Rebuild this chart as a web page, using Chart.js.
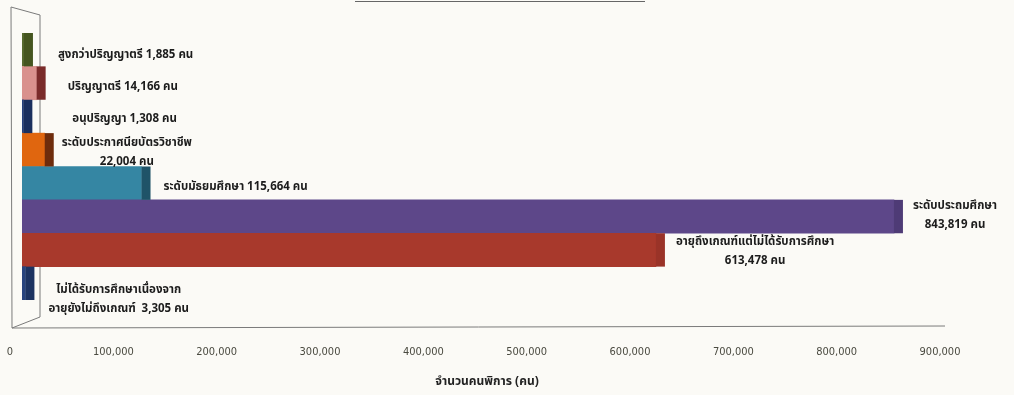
<!DOCTYPE html>
<html>
<head>
<meta charset="utf-8">
<script src="https://cdn.jsdelivr.net/npm/chart.js@4.4.1/dist/chart.umd.min.js"></script>
<style>
  html, body { margin: 0; padding: 0; background: #fbfaf6; }
  #wrap { position: relative; width: 1014px; height: 395px; }
</style>
</head>
<body>
<div id="wrap"><canvas id="chart1" width="1014" height="395"></canvas></div>
<script>
// data
var categories = [
    'สูงกว่าปริญญาตรี',
    'ปริญญาตรี',
    'อนุปริญญา',
    'ระดับประกาศนียบัตรวิชาชีพ',
    'ระดับมัธยมศึกษา',
    'ระดับประถมศึกษา',
    'อายุถึงเกณฑ์แต่ไม่ได้รับการศึกษา',
    'ไม่ได้รับการศึกษาเนื่องจาก\nอายุยังไม่ถึงเกณฑ์ '
];
var people = [1885, 14166, 1308, 22004, 115664, 843819, 613478, 3305];
var valueOnNewLine = [false, false, false, true, false, true, true, false];
var xTicks = [0, 100000, 200000, 300000, 400000, 500000, 600000, 700000, 800000, 900000];

// styles
var frontColors = ['#56692e', '#d9918d', '#253f7c', '#e0660f', '#3586a3', '#5d4789', '#a8392c', '#27437e'];
var sideColors  = ['#45551f', '#7a2b2a', '#1b2f5e', '#6e2c0c', '#1f5368', '#4e3b76', '#9a3328', '#1c3362'];
var labelNudge  = [[15, 3], [12, 2], [30, 0], [-2, 0], [3, 1], [0, -3], [1, -1], [4, 14]];

function fmt(v) { return v.toLocaleString('en-US'); }

var FONT = "'Noto Sans Thai', 'Noto Sans', 'DejaVu Sans', sans-serif";
var SIDE = 9;

var depthPlugin = {
    id: 'depth',
    beforeDatasetsDraw: function(chart) {
        var c = chart.ctx, a = chart.chartArea;
        c.save();
        c.strokeStyle = '#7a7a7a';
        c.lineWidth = 1;
        // back wall
        c.beginPath();
        c.moveTo(a.left - 11, 7);
        c.lineTo(a.left + 18, 15);
        c.lineTo(a.left + 18, a.bottom + 17);
        c.lineTo(a.left - 10, a.bottom + 28);
        c.closePath();
        c.stroke();
        // floor front edge
        c.beginPath();
        c.moveTo(a.left - 10, a.bottom + 28);
        c.lineTo(a.right - 7, a.bottom + 26);
        c.stroke();
        // title underline (title cut off in the scan)
        c.strokeStyle = '#666';
        c.beginPath();
        c.moveTo(355, 1.5);
        c.lineTo(645, 1.5);
        c.stroke();
        c.restore();
    },
    afterDatasetsDraw: function(chart) {
        var c = chart.ctx;
        var bars = chart.getDatasetMeta(0).data;
        c.save();
        bars.forEach(function(bar, i) {
            var top = bar.y - bar.height / 2;
            c.fillStyle = sideColors[i];
            c.fillRect(bar.x, top, SIDE, bar.height);
        });
        // value labels
        c.fillStyle = '#1c1c1c';
        c.font = 'bold 11.5px ' + FONT;
        c.textBaseline = 'middle';
        bars.forEach(function(bar, i) {
            var text = categories[i] + (valueOnNewLine[i] ? '\n' : ' ') + fmt(people[i]) + ' คน';
            var lines = text.split('\n');
            var w = Math.max.apply(null, lines.map(function(l) { return c.measureText(l).width; }));
            var x0 = bar.x + SIDE + 10 + labelNudge[i][0];
            var yc = bar.y + 3 + labelNudge[i][1];
            var lh = 19;
            lines.forEach(function(l, k) {
                var y = yc + (k - (lines.length - 1) / 2) * lh;
                if (lines.length > 1) {
                    c.textAlign = 'center';
                    c.fillText(l, x0 + w / 2, y);
                } else {
                    c.textAlign = 'left';
                    c.fillText(l, x0, y);
                }
            });
        });
        c.restore();
    }
};

var ctx = document.getElementById('chart1').getContext('2d');
var myChart = new Chart(ctx, {
    type: 'bar',
    data: {
        labels: categories,
        datasets: [{
            data: people,
            backgroundColor: frontColors,
            borderWidth: 0,
            barPercentage: 1,
            categoryPercentage: 1
        }]
    },
    options: {
        indexAxis: 'y',
        responsive: false,
        animation: false,
        layout: {
            padding: { left: 22, right: 62, top: 33, bottom: 2 }
        },
        plugins: {
            legend: { display: false },
            tooltip: { enabled: false }
        },
        scales: {
            y: {
                display: false
            },
            x: {
                min: 0,
                max: 900000,
                afterBuildTicks: function(axis) {
                    axis.ticks = xTicks.map(function(v) { return { value: v }; });
                },
                afterFit: function(axis) {
                    axis.height = 93;
                    axis.paddingLeft = 0;
                    axis.paddingRight = 0;
                },
                grid: { display: false, drawTicks: false },
                border: { display: false },
                ticks: {
                    padding: 46,
                    labelOffset: -12,
                    maxRotation: 0,
                    autoSkip: false,
                    color: '#4a4a40',
                    font: { family: "'DejaVu Sans Condensed', 'Noto Sans', sans-serif", size: 11 },
                    callback: function(v) { return fmt(v); }
                },
                title: {
                    display: true,
                    text: 'จำนวนคนพิการ (คน)',
                    color: '#222',
                    padding: { top: 14, bottom: 3 },
                    font: { family: FONT, size: 12, weight: 'bold' }
                }
            }
        }
    },
    plugins: [depthPlugin]
});
</script>
</body>
</html>
